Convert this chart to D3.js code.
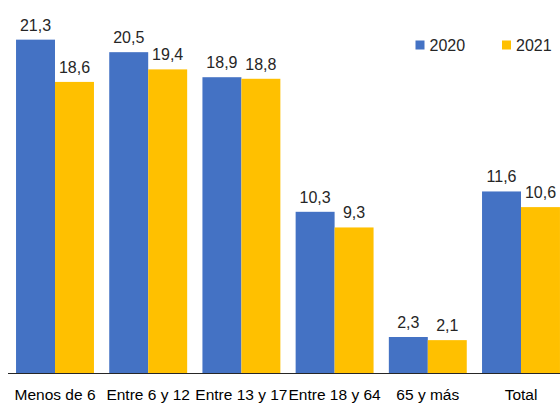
<!DOCTYPE html>
<html>
<head>
<meta charset="utf-8">
<script src="https://cdn.jsdelivr.net/npm/d3@7"></script>
<style>
  body { margin: 0; background: #fff; }
  svg { display: block; font-family: "Liberation Sans", Arial, sans-serif; }
</style>
</head>
<body>
<div id="chart"></div>
<script>
// data
var categories = ["Menos de 6", "Entre 6 y 12", "Entre 13 y 17", "Entre 18 y 64", "65 y más", "Total"];
var series = ["2020", "2021"];
var values2020 = [21.3, 20.5, 18.9, 10.3, 2.3, 11.6];
var values2021 = [18.6, 19.4, 18.8, 9.3, 2.1, 10.6];

var colors = { "2020": "#4472C4", "2021": "#FFC000" };

var width = 560, height = 403;
var baseY = 373;

var rows = categories.map(function (c, i) {
    return { cat: c, vals: [{ s: "2020", v: values2020[i] }, { s: "2021", v: values2021[i] }] };
});

var svg = d3.select("#chart").append("svg")
    .attr("width", width)
    .attr("height", height);

// x scales: one band per category, then one per series inside it
var x0 = d3.scaleBand()
    .domain(categories)
    .range([8.4, 567.6]);

var x1 = d3.scaleBand()
    .domain(series)
    .range([0, x0.bandwidth()])
    .paddingOuter(0.196);

var y = d3.scaleLinear()
    .domain([0, 22])
    .range([baseY, baseY - 22 * 15.65]);

var fmt = function (v) { return d3.format(".1f")(v).replace(".", ","); };

var groups = svg.append("g")
    .selectAll("g")
    .data(rows)
    .enter()
    .append("g")
    .attr("transform", function (d) { return "translate(" + x0(d.cat) + ",0)"; });

groups.selectAll("rect")
    .data(function (d) { return d.vals; })
    .enter()
    .append("rect")
    .attr("x", function (d) { return x1(d.s); })
    .attr("y", function (d) { return y(d.v); })
    .attr("width", x1.bandwidth())
    .attr("height", function (d) { return baseY - y(d.v); })
    .attr("fill", function (d) { return colors[d.s]; });

// value labels
groups.selectAll("text")
    .data(function (d) { return d.vals; })
    .enter()
    .append("text")
    .attr("x", function (d) { return x1(d.s) + x1.bandwidth() / 2; })
    .attr("y", function (d) { return y(d.v) - 9; })
    .attr("text-anchor", "middle")
    .style("font-size", "16px")
    .attr("fill", "#262626")
    .text(function (d) { return fmt(d.v); });

// axis line
svg.append("line")
    .attr("x1", 8)
    .attr("x2", width)
    .attr("y1", baseY + 0.5)
    .attr("y2", baseY + 0.5)
    .attr("stroke", "#262626")
    .attr("stroke-width", 1.2);

// category labels
svg.append("g")
    .selectAll("text")
    .data(categories)
    .enter()
    .append("text")
    .attr("x", function (d) { return x0(d) + x0.bandwidth() / 2; })
    .attr("y", 400)
    .attr("text-anchor", "middle")
    .style("font-size", "15.5px")
    .attr("fill", "#000")
    .text(function (d) { return d; });

// legend
var legend = svg.append("g")
    .selectAll("g")
    .data(series)
    .enter()
    .append("g")
    .attr("transform", function (d, i) { return "translate(" + (415.5 + i * 86.5) + ",40.5)"; });

legend.append("rect")
    .attr("width", 9)
    .attr("height", 9)
    .attr("fill", function (d) { return colors[d]; });

legend.append("text")
    .attr("x", 14)
    .attr("y", 10.5)
    .style("font-size", "16px")
    .attr("fill", "#262626")
    .text(function (d) { return d; });
</script>
</body>
</html>
